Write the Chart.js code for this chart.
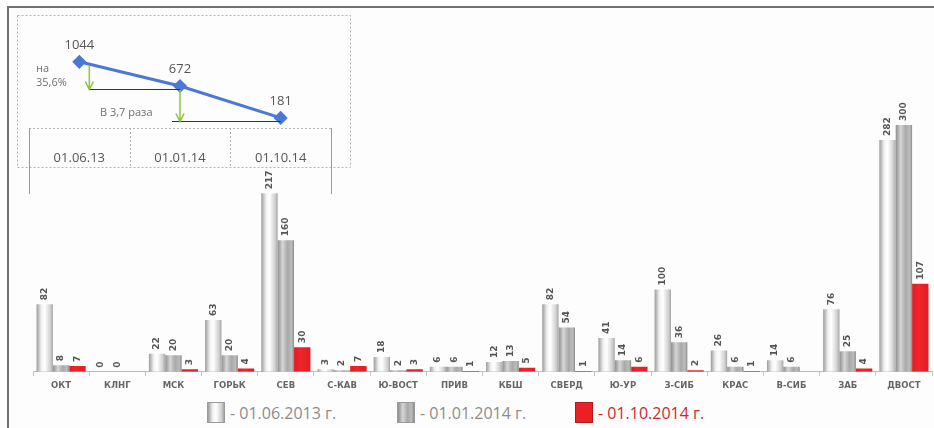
<!DOCTYPE html>
<html>
<head>
<meta charset="utf-8">
<script src="https://cdn.jsdelivr.net/npm/chart.js@4.4.1/dist/chart.umd.min.js"></script>
<style>
  html, body { margin: 0; padding: 0; background: #fdfdfd; }
  #page { position: relative; width: 934px; height: 428px; overflow: hidden; }
  #frame { position: absolute; left: 7px; top: 6px; width: 930px; height: 430px;
           border-top: 2px solid #707070; border-left: 2px solid #707070; }
  #main { position: absolute; left: 0; top: 0; }
  #inset { position: absolute; left: 0; top: 0; }
  .leg { position: absolute; top: 402px; height: 21px; display: flex; align-items: center;
         font-family: "Open Sans", sans-serif; font-size: 16px; color: #8c8c8c; white-space: nowrap; }
  .leg i { display: inline-block; width: 16px; height: 19px; margin-right: 5px; border: 1px solid #9a9a9a; }
</style>
</head>
<body>
<div id="page">
  <div id="frame"></div>
  <canvas id="main" width="934" height="399"></canvas>
  <canvas id="inset" width="360" height="200"></canvas>
  <div class="leg" style="left:207px"><i style="background:linear-gradient(90deg,#9c9c9c,#f2f2f2 30%,#ffffff 50%,#cfcfcf 85%,#a4a4a4)"></i>- 01.06.2013 г.</div>
  <div class="leg" style="left:397px"><i style="background:linear-gradient(90deg,#8e8e8e,#d6d6d6 30%,#a9a9a9 60%,#bcbcbc 85%,#8c8c8c)"></i>- 01.01.2014 г.</div>
  <div class="leg" style="left:575px;color:#d2262c"><i style="background:#ec1f26;border-color:#b01a1e"></i>- 01.10.2014 г.</div>
</div>
<script>
// roads and counts at each date
const roads = ['ОКТ', 'КЛНГ', 'МСК', 'ГОРЬК', 'СЕВ', 'С-КАВ', 'Ю-ВОСТ', 'ПРИВ',
               'КБШ', 'СВЕРД', 'Ю-УР', 'З-СИБ', 'КРАС', 'В-СИБ', 'ЗАБ', 'ДВОСТ'];
const jun2013 = [82, 0, 22, 63, 217, 3, 18, 6, 12, 82, 41, 100, 26, 14, 76, 282];
const jan2014 = [8, 0, 20, 20, 160, 2, 2, 6, 13, 54, 14, 36, 6, 6, 25, 300];
const oct2014 = [7, null, 3, 4, 30, 7, 3, 1, 5, 1, 6, 2, 1, null, 4, 107];

// totals for the small trend chart
const totalDates = ['01.06.13', '01.01.14', '01.10.14'];
const totals = [1044, 672, 181];

const CAT_PCT = 0.875;

const silverStops = [[0, '#9c9c9c'], [0.3, '#f2f2f2'], [0.5, '#ffffff'], [0.85, '#cfcfcf'], [1, '#a4a4a4']];
const grayStops = [[0, '#8e8e8e'], [0.3, '#d6d6d6'], [0.6, '#a9a9a9'], [0.85, '#bcbcbc'], [1, '#8c8c8c']];
const redStops = [[0, '#e21a22'], [0.4, '#f0262c'], [1, '#e01c22']];

// horizontal gradient across each bar so it looks like a cylinder
function barFill(stops) {
  return (ctx) => {
    const chart = ctx.chart;
    const x = chart.scales.x;
    if (!x || ctx.type !== 'data') return stops[1][1];
    const cat = (x.right - x.left) / roads.length;
    const group = cat * CAT_PCT;
    const w = group / 3;
    const left = x.getPixelForValue(ctx.dataIndex) - group / 2 + ctx.datasetIndex * w;
    if (!isFinite(left) || !isFinite(w) || w <= 0) return stops[1][1];
    const g = chart.ctx.createLinearGradient(left, 0, left + w, 0);
    stops.forEach(([o, c]) => g.addColorStop(o, c));
    return g;
  };
}

const valueLabels = {
  id: 'valueLabels',
  afterDatasetsDraw(chart) {
    const ctx = chart.ctx;
    ctx.save();
    ctx.font = 'bold 9px "DejaVu Sans"';
    ctx.fillStyle = '#555';
    ctx.textAlign = 'left';
    ctx.textBaseline = 'middle';
    chart.data.datasets.forEach((ds, i) => {
      chart.getDatasetMeta(i).data.forEach((bar, j) => {
        const v = ds.data[j];
        if (v === null) return;
        ctx.save();
        ctx.translate(bar.x, bar.y - 4);
        ctx.rotate(-Math.PI / 2);
        ctx.fillText(String(v), 0, 0);
        ctx.restore();
      });
    });
    ctx.restore();
  }
};

new Chart(document.getElementById('main'), {
  type: 'bar',
  data: {
    labels: roads,
    datasets: [
      { label: '01.06.2013 г.', data: jun2013, backgroundColor: barFill(silverStops) },
      { label: '01.01.2014 г.', data: jan2014, backgroundColor: barFill(grayStops) },
      { label: '01.10.2014 г.', data: oct2014, backgroundColor: barFill(redStops) }
    ]
  },
  options: {
    responsive: false,
    animation: false,
    devicePixelRatio: 1,
    categoryPercentage: CAT_PCT,
    barPercentage: 1,
    layout: { padding: { left: 33, right: 2, top: 84, bottom: 3 } },
    plugins: { legend: { display: false }, tooltip: { enabled: false } },
    scales: {
      x: {
        grid: { display: true, drawOnChartArea: false, drawTicks: true, tickLength: 4, color: '#c4c4c4', offset: true },
        border: { color: '#bdbdbd' },
        ticks: { padding: 5, maxRotation: 0, autoSkip: false, color: '#666',
                 font: { family: 'DejaVu Sans', size: 8.5, weight: 'bold' } }
      },
      y: { display: false, min: 0, max: 350 }
    }
  },
  plugins: [valueLabels]
});

// frame, table lines, arrows and captions of the trend chart
const insetDecor = {
  id: 'insetDecor',
  afterDraw(chart) {
    const ctx = chart.ctx;
    const { left, right, bottom } = chart.chartArea;
    const pts = chart.getDatasetMeta(0).data;
    const cellW = (right - left) / totalDates.length;
    ctx.save();

    // dashed outline and table grid
    ctx.strokeStyle = '#b4b4b4';
    ctx.lineWidth = 1;
    ctx.setLineDash([2, 2]);
    ctx.strokeRect(17.5, 15.5, 333, 152);
    ctx.beginPath();
    ctx.moveTo(left, bottom + 0.5); ctx.lineTo(right, bottom + 0.5);
    for (let k = 1; k < totalDates.length; k++) {
      const x = Math.round(left + k * cellW) + 0.5;
      ctx.moveTo(x, bottom); ctx.lineTo(x, 167);
    }
    ctx.stroke();
    ctx.setLineDash([]);
    ctx.strokeStyle = '#9a9a9a';
    ctx.beginPath();
    ctx.moveTo(left + 0.5, bottom); ctx.lineTo(left + 0.5, 194);
    ctx.moveTo(right + 0.5, bottom); ctx.lineTo(right + 0.5, 194);
    ctx.stroke();

    // reference lines under the points
    const y1 = Math.round(pts[1].y) + 3.5;
    const y2 = Math.round(pts[2].y) + 3.5;
    const ax1 = pts[0].x + 10;
    ctx.strokeStyle = '#333';
    ctx.beginPath();
    ctx.moveTo(ax1, y1); ctx.lineTo(pts[1].x, y1);
    ctx.moveTo(pts[1].x - 8, y2); ctx.lineTo(pts[2].x, y2);
    ctx.stroke();

    // green drop arrows
    ctx.strokeStyle = '#8cc43c';
    ctx.lineWidth = 1.5;
    const arrow = (x, y0, y1) => {
      ctx.beginPath();
      ctx.moveTo(x, y0); ctx.lineTo(x, y1);
      ctx.moveTo(x - 4, y1 - 8); ctx.lineTo(x, y1); ctx.lineTo(x + 4, y1 - 8);
      ctx.stroke();
    };
    arrow(ax1, pts[0].y + 4, y1);
    arrow(pts[1].x, pts[1].y + 4, y2);

    // point values
    ctx.fillStyle = '#555';
    ctx.font = '13px "Open Sans"';
    ctx.textAlign = 'center';
    ctx.textBaseline = 'middle';
    pts.forEach((p, i) => ctx.fillText(String(totals[i]), p.x, p.y - 17));

    // change captions
    ctx.fillStyle = '#707070';
    ctx.font = '11px "Open Sans"';
    ctx.textAlign = 'left';
    ctx.fillText('на', 36, 69);
    ctx.fillText('35,6%', 36, 83);
    ctx.fillText('В 3,7 раза', 100, 113);
    ctx.restore();
  }
};

new Chart(document.getElementById('inset'), {
  type: 'line',
  data: {
    labels: totalDates,
    datasets: [{
      data: totals,
      borderColor: '#4a78d8',
      backgroundColor: '#4a78d8',
      borderWidth: 3,
      pointStyle: 'rectRot',
      pointRadius: 5,
      tension: 0
    }]
  },
  options: {
    responsive: false,
    animation: false,
    devicePixelRatio: 1,
    layout: { padding: { left: 29, right: 29, top: 20, bottom: 0 } },
    plugins: { legend: { display: false }, tooltip: { enabled: false } },
    scales: {
      x: {
        offset: true,
        grid: { display: false },
        border: { display: false },
        ticks: { padding: 14, color: '#555', font: { family: 'Open Sans', size: 13 } },
        // table row below the plot: fixed height so the plot ends at the table top
        afterFit(scale) { scale.height = 72; }
      },
      y: { display: false, min: 26, max: 1687 }
    }
  },
  plugins: [insetDecor]
});
</script>
</body>
</html>
